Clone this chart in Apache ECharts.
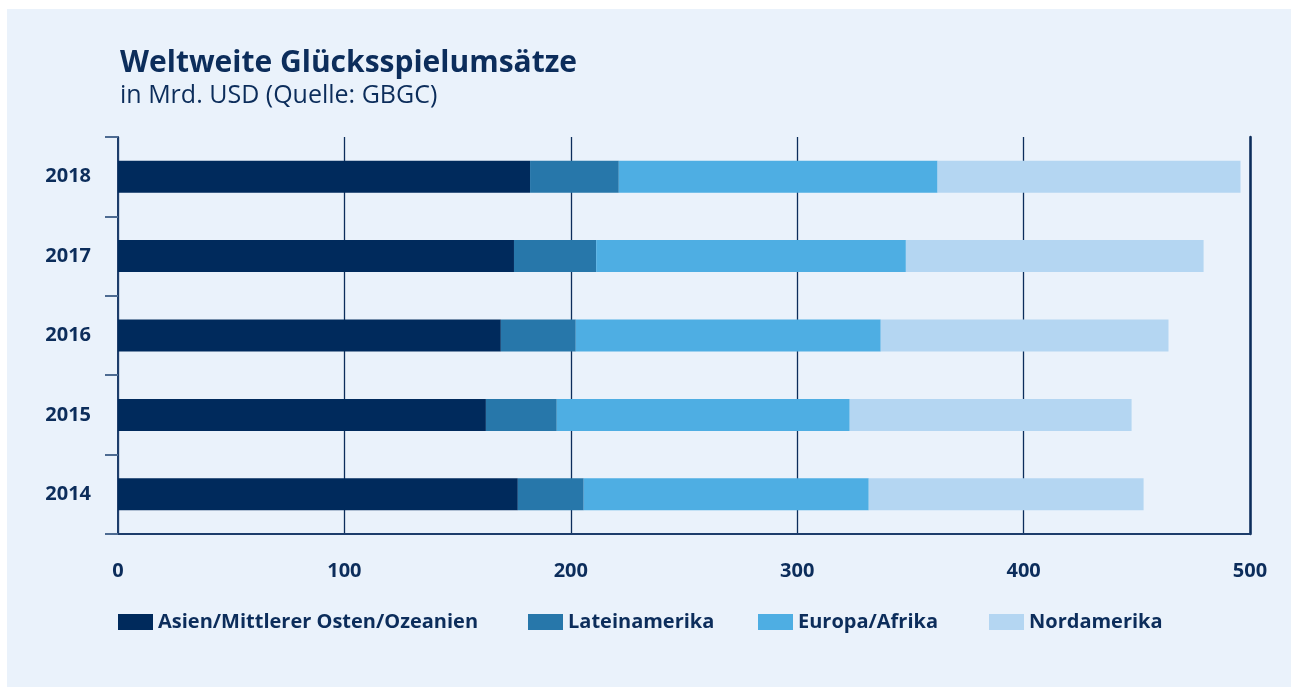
<!DOCTYPE html>
<html>
<head>
<meta charset="utf-8">
<script src="https://cdn.jsdelivr.net/npm/echarts@6/dist/echarts.min.js"></script>
<style>
  html, body { margin: 0; padding: 0; background: #ffffff; }
  #chart { width: 1291px; height: 687px; }
</style>
</head>
<body>
<div id="chart"></div>
<script>
    // Jahre (unten nach oben) und Umsätze in Mrd. USD
    var years = ['2014', '2015', '2016', '2017', '2018'];
    var asien = [176.6, 162.5, 169.1, 174.9, 182.0];
    var latein = [29.1, 31.3, 33.1, 36.3, 39.2];
    var europa = [125.9, 129.4, 134.7, 136.8, 140.8];
    var nord = [121.4, 124.5, 127.1, 131.5, 133.8];
    var seriesNames = ['Asien/Mittlerer Osten/Ozeanien', 'Lateinamerika', 'Europa/Afrika', 'Nordamerika'];
    var xTicks = [0, 100, 200, 300, 400, 500];

    var navy = '#0c2d5b';
    var colors = ['#002a5c', '#2777aa', '#4eaee3', '#b4d6f2'];
    var font = '"Open Sans", "Noto Sans", sans-serif';

    var myChart = echarts.init(document.getElementById('chart'));

    function legendAt(name, left) {
        return {
            data: [name],
            left: left,
            top: 612,
            padding: 0,
            itemWidth: 35,
            itemHeight: 16,
            icon: 'rect',
            selectedMode: false,
            textStyle: { color: navy, fontSize: 20, fontWeight: 'bold', fontFamily: font }
        };
    }

    var option = {
        backgroundColor: '#ffffff',
        graphic: [{
            type: 'rect',
            z: -10,
            shape: { x: 7, y: 9, width: 1284, height: 678 },
            style: { fill: '#eaf2fb' }
        }],
        title: [
            {
                text: 'Weltweite Glücksspielumsätze',
                left: 115, top: 43,
                textStyle: { color: navy, fontSize: 30, fontWeight: 'bold', fontFamily: font }
            },
            {
                text: 'in Mrd. USD (Quelle: GBGC)',
                left: 115, top: 78,
                textStyle: { color: navy, fontSize: 25, fontWeight: 'normal', fontFamily: font }
            }
        ],
        legend: [
            legendAt(seriesNames[0], 118),
            legendAt(seriesNames[1], 528),
            legendAt(seriesNames[2], 758),
            legendAt(seriesNames[3], 989)
        ],
        grid: { left: 118, right: 41, top: 137, bottom: 153 },
        xAxis: {
            type: 'value',
            min: xTicks[0],
            max: xTicks[xTicks.length - 1],
            interval: 100,
            axisLine: { show: true, lineStyle: { color: '#1d3d6b', width: 2 } },
            axisTick: { show: false },
            axisLabel: {
                margin: 27,
                color: navy, fontSize: 20, fontWeight: 'bold', fontFamily: font
            },
            splitLine: { show: true, lineStyle: { color: '#0c2d5b', width: 1.3 } }
        },
        yAxis: [
            {
                type: 'category',
                data: years,
                axisLine: { show: true, lineStyle: { color: '#1d3d6b', width: 2 } },
                axisTick: { show: true, length: 13, lineStyle: { color: '#4d6b92', width: 2 } },
                axisLabel: {
                    margin: 27,
                    color: navy, fontSize: 20, fontWeight: 'bold', fontFamily: font
                },
                splitLine: { show: false }
            },
            {
                type: 'category',
                data: years,
                position: 'right',
                axisLine: { show: true, lineStyle: { color: '#0c2d5b', width: 2.5 } },
                axisTick: { show: false },
                axisLabel: { show: false },
                splitLine: { show: false }
            }
        ],
        series: [
            { name: seriesNames[0], type: 'bar', stack: 'total', barWidth: 32, data: asien, itemStyle: { color: colors[0] } },
            { name: seriesNames[1], type: 'bar', stack: 'total', barWidth: 32, data: latein, itemStyle: { color: colors[1] } },
            { name: seriesNames[2], type: 'bar', stack: 'total', barWidth: 32, data: europa, itemStyle: { color: colors[2] } },
            { name: seriesNames[3], type: 'bar', stack: 'total', barWidth: 32, data: nord, itemStyle: { color: colors[3] } }
        ]
    };

    myChart.setOption(option);
</script>
</body>
</html>
